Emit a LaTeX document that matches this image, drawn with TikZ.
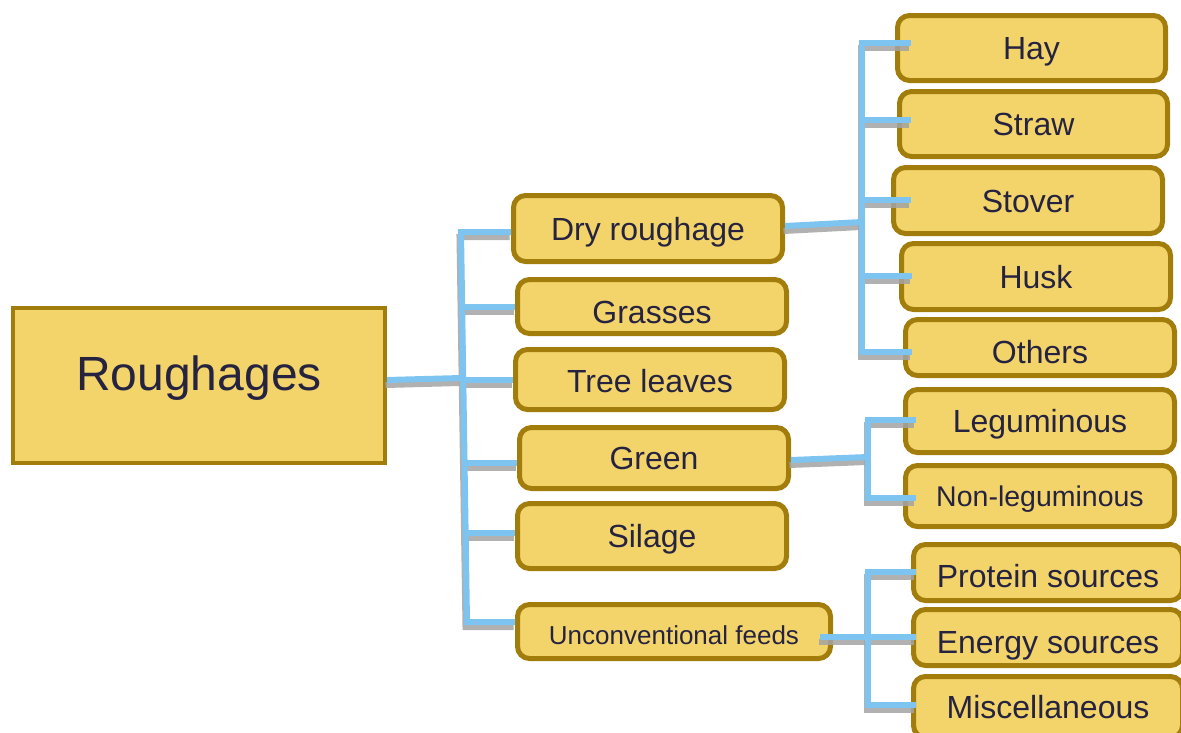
\documentclass[tikz,border=0pt]{standalone}
\usepackage{fontspec}
\setmainfont{Liberation Sans}
\usetikzlibrary{calc}
\definecolor{boxfill}{HTML}{F2D46B}
\definecolor{boxline}{HTML}{A27D0C}
\definecolor{txt}{HTML}{262340}
\definecolor{lblue}{HTML}{7DC4F0}
\definecolor{shade}{HTML}{A3A3A3}
\newcommand\wires{%
  % main tree
  \draw[ln] ($(rough.east)+(0,-5.5)$) -- (mJ);
  \draw[ln] (b1 -| dry.west) -- (b1) -- (b6) -- (b6 -| unc.west);
  \draw[ln] (b2) -- (b2 -| grass.west);
  \draw[ln] (b3) -- (b3 -| tree.west);
  \draw[ln] (b4) -- (b4 -| green.west);
  \draw[ln] (b5) -- (b5 -| silage.west);
  % dry roughage
  \draw[ln] ($(dry.east)+(0,-2.5)$) -- (dJ);
  \draw[ln] ($(hay.west |- h1)+(15.5,0)$) -- (h1) -- (h5) -- ($(others.west |- h5)+(8.5,0)$);
  \draw[ln] (h2) -- ($(straw.west |- h2)+(13.5,0)$);
  \draw[ln] (h3) -- ($(stover.west |- h3)+(19.5,0)$);
  \draw[ln] (h4) -- ($(husk.west |- h4)+(12.5,0)$);
  % green
  \draw[ln] ($(green.east)+(0,2)$) -- (gJ);
  \draw[ln] ($(legum.west |- g1)+(12.5,0)$) -- (g1) -- (g2) -- ($(nonleg.west |- g2)+(12.5,0)$);
  % unconventional
  \draw[ln] ($(unc.east)+(-13,5.5)$) -- (uJ);
  \draw[ln] ($(protein.west |- u1)+(4.5,0)$) -- (u1) -- (u3) -- ($(misc.west |- u3)+(4.5,0)$);
  \draw[ln] (u2) -- ($(energy.west |- u2)+(4.5,0)$);
}
\begin{document}
\begin{tikzpicture}[x=1pt,y=-1pt,
  rbox/.style={draw=boxline, fill=boxfill, line width=5pt, rounded corners=12pt,
    minimum width=269pt, inner sep=0pt, text=txt,
    font=\fontsize{32}{38}\selectfont, text height=23pt, text depth=0pt},
  mainbox/.style={draw=boxline, fill=boxfill, line width=4pt, minimum width=372pt,
    minimum height=155pt, inner sep=0pt, text=txt,
    font=\fontsize{48}{56}\selectfont, text height=35pt, text depth=26pt},
  shadowln/.style={draw=shade, opacity=0.85, line width=6pt,
    transform canvas={xshift=-1.5pt,yshift=-5pt}},
  blueln/.style={draw=lblue, line width=6pt}]
\useasboundingbox (0,0) rectangle (1181,732);
\clip (0,0) rectangle (1181,732);
% boxes
\node[mainbox] (rough) at (199,385.5) {Roughages};
\node[rbox, minimum height=66pt] (dry) at (648,228.5) {Dry roughage};
\node[rbox, minimum height=54pt, text height=34pt] (grass) at (652,306.5) {Grasses};
\node[rbox, minimum height=60pt, text height=26pt] (tree) at (650,379.5) {Tree leaves};
\node[rbox, minimum height=61pt] (green) at (654,458) {Green};
\node[rbox, minimum height=65pt] (silage) at (652,536) {Silage};
\node[rbox, minimum height=54pt, minimum width=313pt, font=\fontsize{26}{30}\selectfont,
  text height=25pt] (unc) at (674,631.5) {Unconventional feeds};
\node[rbox, minimum height=65pt, minimum width=268pt] (hay) at (1031.5,48) {Hay};
\node[rbox, minimum height=65pt, minimum width=268pt] (straw) at (1033.5,124) {Straw};
\node[rbox, minimum height=66pt] (stover) at (1028,200.5) {Stover};
\node[rbox, minimum height=66pt] (husk) at (1036,276.5) {Husk};
\node[rbox, minimum height=56pt, text height=31pt] (others) at (1040,347.5) {Others};
\node[rbox, minimum height=63pt] (legum) at (1040,421) {Leguminous};
\node[rbox, minimum height=61pt, font=\fontsize{28.5}{34}\selectfont, text height=21pt] (nonleg) at (1040,496) {Non-leguminous};
\node[rbox, minimum height=56pt, text height=30pt] (protein) at (1048,572.5) {Protein sources};
\node[rbox, minimum height=56pt, text height=31pt] (energy) at (1048,637.5) {Energy sources};
\node[rbox, minimum height=61pt] (misc) at (1048,707) {Miscellaneous};
% junctions
\coordinate (mJ) at (461,378);
\coordinate (b1) at (461,232);
\coordinate (b2) at (462.2,307);
\coordinate (b3) at (463.3,380);
\coordinate (b4) at (464.6,463);
\coordinate (b5) at (465.7,533);
\coordinate (b6) at (467,622);
\coordinate (dJ) at (862,222);
\coordinate (h1) at (862,43);
\coordinate (h2) at (862,120);
\coordinate (h3) at (862,200);
\coordinate (h4) at (862,276);
\coordinate (h5) at (862,352);
\coordinate (gJ) at (868,457);
\coordinate (g1) at (868,420);
\coordinate (g2) at (868,498);
\coordinate (uJ) at (868,637);
\coordinate (u1) at (868,572);
\coordinate (u2) at (868,637);
\coordinate (u3) at (868,705);
% connectors: shadows, then blue lines
\begin{scope}[ln/.style=shadowln]
\wires
\end{scope}
\begin{scope}[ln/.style=blueln]
\wires
\end{scope}
\end{tikzpicture}
\end{document}
